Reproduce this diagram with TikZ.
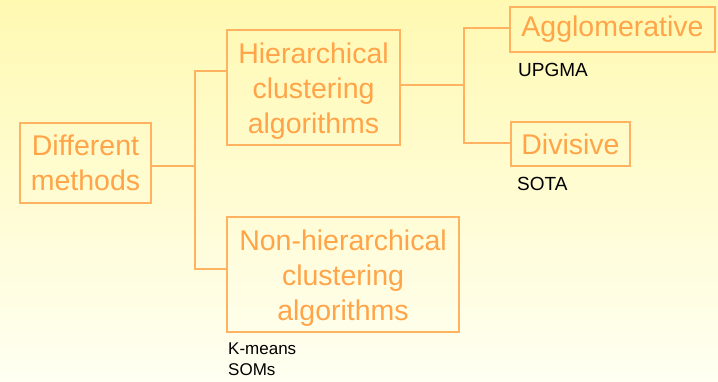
\documentclass[tikz,border=0pt]{standalone}
\usepackage{fontspec}
\setmainfont{Liberation Sans}
\definecolor{bgtop}{RGB}{255,249,178}
\definecolor{bgbot}{RGB}{255,255,242}
\definecolor{boxtxt}{RGB}{255,164,72}
\definecolor{boxline}{RGB}{255,178,96}
\tikzset{
  catbox/.style={draw=boxline, line width=1.4pt, inner sep=0pt},
  cattext/.style={text=boxtxt, align=center, inner sep=0pt,
    font=\fontsize{28.5}{35}\selectfont},
  link/.style={draw=boxline, line width=1.3pt},
  note/.style={anchor=west, inner sep=0pt, text=black, align=left,
    font=\fontsize{17}{21}\selectfont},
  bignote/.style={note, font=\fontsize{19}{23}\selectfont}
}
\begin{document}
\begin{tikzpicture}[x=1pt, y=-1pt]
  % background
  \shade[top color=bgtop, bottom color=bgbot] (0,0) rectangle (718,381);
  \useasboundingbox (0,0) rectangle (718,381);

  % category boxes
  \node[catbox, minimum width=131pt, minimum height=80pt] (diff) at (85.5,163) {};
  \node[catbox, minimum width=173pt, minimum height=115pt] (hier) at (313.5,87.5) {};
  \node[catbox, minimum width=232pt, minimum height=115pt] (nonh) at (343,274.5) {};
  \node[catbox, minimum width=205pt, minimum height=45pt] (agg) at (612.5,29.5) {};
  \node[catbox, minimum width=119pt, minimum height=44pt] (div) at (570.5,144) {};

  % box captions
  \node[cattext] (difftxt) at (diff.center) {Different\\methods};
  \node[cattext] (hiertxt) at ([yshift=-3.5pt]hier.center) {Hierarchical\\clustering\\algorithms};
  \node[cattext] (nonhtxt) at ([yshift=-3.5pt]nonh.center) {Non-hierarchical\\clustering\\algorithms};
  \node[cattext] (aggtxt) at (agg.center) {Agglomerative};
  \node[cattext] (divtxt) at (div.center) {Divisive};

  % examples
  \node[bignote] (upgma) at (518,70) {UPGMA};
  \node[bignote] (sota) at (517,184) {SOTA};
  \node[note] (kmeans) at (228,359.5) {K-means\\SOMs};

  % tree connectors
  \coordinate (j1) at (195,166);
  \coordinate (b1) at (195,71);
  \coordinate (b2) at (195,269);
  \draw[link] (diff.east |- j1) -- (j1);
  \draw[link] (b1 -| hier.west) -- (b1) -- (b2) -- (b2 -| nonh.west);

  \coordinate (j2) at (464,85);
  \coordinate (c1) at (464,28);
  \coordinate (c2) at (464,143);
  \draw[link] (hier.east |- j2) -- (j2);
  \draw[link] (c1 -| agg.west) -- (c1) -- (c2) -- (c2 -| div.west);
\end{tikzpicture}
\end{document}
